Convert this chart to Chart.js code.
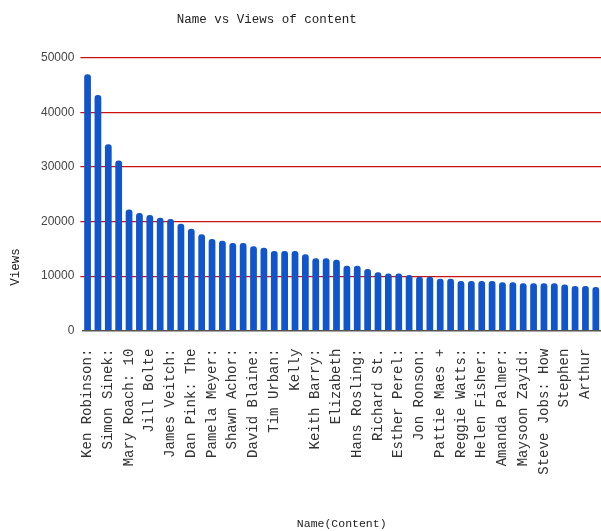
<!DOCTYPE html>
<html lang="en">
<head>
    <meta charset="UTF-8">
    <title>Name vs Views of content</title>
    <script src="https://cdn.jsdelivr.net/npm/chart.js@4.4.1/dist/chart.umd.min.js"></script>
    <style>
        body { margin: 0; background: #fff; }
        #wrap { width: 601px; height: 531px; }
    </style>
</head>
<body>
    <div id="wrap">
        <canvas id="myChart" width="601" height="531"></canvas>
    </div>

    <script>
        // talk names (cut short, as in the original)
        var names = [
            "Ken Robinson:", "Amy Cuddy: Your", "Simon Sinek:", "Brené Brown:", "Mary Roach: 10",
            "Julian Treasure", "Jill Bolte", "Tony Robbins:", "James Veitch:", "Cameron Russell",
            "Dan Pink: The", "Susan Cain: The", "Pamela Meyer:", "Robert", "Shawn Achor:",
            "Graham Hill:", "David Blaine:", "Elon Musk: The", "Tim Urban:", "Dan Gilbert:",
            "Kelly", "Rita Pierson:", "Keith Barry:", "Sam Berns: My", "Elizabeth",
            "Jane McGonigal:", "Hans Rosling:", "Larry Lessig:", "Richard St.", "Apollo Robbins:",
            "Esther Perel:", "Ron Finley: A", "Jon Ronson:", "Andrew Solomon:", "Pattie Maes +",
            "Jamie Oliver:", "Reggie Watts:", "Matt Cutts: Try", "Helen Fisher:", "Brian Little:",
            "Amanda Palmer:", "Steven Johnson:", "Maysoon Zayid:", "Simon Lewis:", "Steve Jobs: How",
            "Cesar Kuriyama:", "Stephen", "Sarah Kay: If", "Arthur", "Stuart Brown:"
        ];

        var views = [
            47000, 43200, 34200, 31200, 22200,
            21600, 21200, 20700, 20500, 19600,
            18700, 17700, 16800, 16500, 16100,
            16100, 15500, 15200, 14600, 14600,
            14600, 14000, 13300, 13300, 13000,
            11900, 11900, 11300, 10700, 10500,
            10500, 10200, 9900, 9900, 9500,
            9500, 9100, 9100, 9100, 9100,
            8900, 8900, 8700, 8700, 8700,
            8700, 8450, 8200, 8200, 8000
        ];

        var yTicks = [0, 10000, 20000, 30000, 40000, 50000];

        var mono = "'Liberation Mono', 'Courier New', monospace";

        var ctx = document.getElementById("myChart").getContext("2d");
        var myChart = new Chart(ctx, {
            type: 'bar',
            data: {
                labels: names,
                datasets: [{
                    label: 'Views',
                    data: views,
                    backgroundColor: '#1155cc',
                    borderRadius: 3,
                    borderSkipped: 'start',
                    barPercentage: 0.65,
                    categoryPercentage: 1.0
                }]
            },
            options: {
                responsive: false,
                animation: false,
                layout: { padding: 0 },
                plugins: {
                    legend: { display: false },
                    tooltip: { enabled: false },
                    title: {
                        display: true,
                        // trailing spaces nudge the centred title to the left like the original
                        text: 'Name vs Views of content         ',
                        color: '#222',
                        font: { family: mono, size: 12.5, weight: 'normal' },
                        padding: { top: 12, bottom: 31 }
                    }
                },
                scales: {
                    x: {
                        // let the bars run right up to the edge
                        afterFit: function (axis) {
                            axis.paddingLeft = 0;
                            axis.paddingRight = 0;
                        },
                        grid: { display: false },
                        border: { display: true, color: '#555', width: 1.5 },
                        ticks: {
                            color: '#333',
                            font: { family: mono, size: 14 },
                            minRotation: 90,
                            maxRotation: 90,
                            autoSkip: true,
                            autoSkipPadding: 2,
                            padding: 10
                        },
                        title: {
                            display: true,
                            text: 'Name(Content)',
                            color: '#222',
                            font: { family: mono, size: 11.5 },
                            padding: { top: 32.5, bottom: 0 }
                        }
                    },
                    y: {
                        min: 0,
                        max: 50000,
                        afterBuildTicks: function (axis) {
                            axis.ticks = yTicks.map(function (v) { return { value: v }; });
                        },
                        grid: {
                            color: function (c) {
                                return c.tick && c.tick.value === 0 ? 'rgba(0,0,0,0)' : '#cc1111';
                            },
                            lineWidth: 1.2,
                            drawTicks: true,
                            tickLength: 2
                        },
                        border: { display: false },
                        ticks: {
                            color: '#444',
                            font: { family: "'Liberation Sans', Arial, sans-serif", size: 12 },
                            padding: 6,
                            callback: function (v) { return String(v); }
                        },
                        title: {
                            display: true,
                            align: 'start',
                            text: '      Views',
                            color: '#222',
                            font: { family: mono, size: 12.5 },
                            padding: { top: 8, bottom: 12 }
                        }
                    }
                }
            }
        });
    </script>
</body>
</html>
